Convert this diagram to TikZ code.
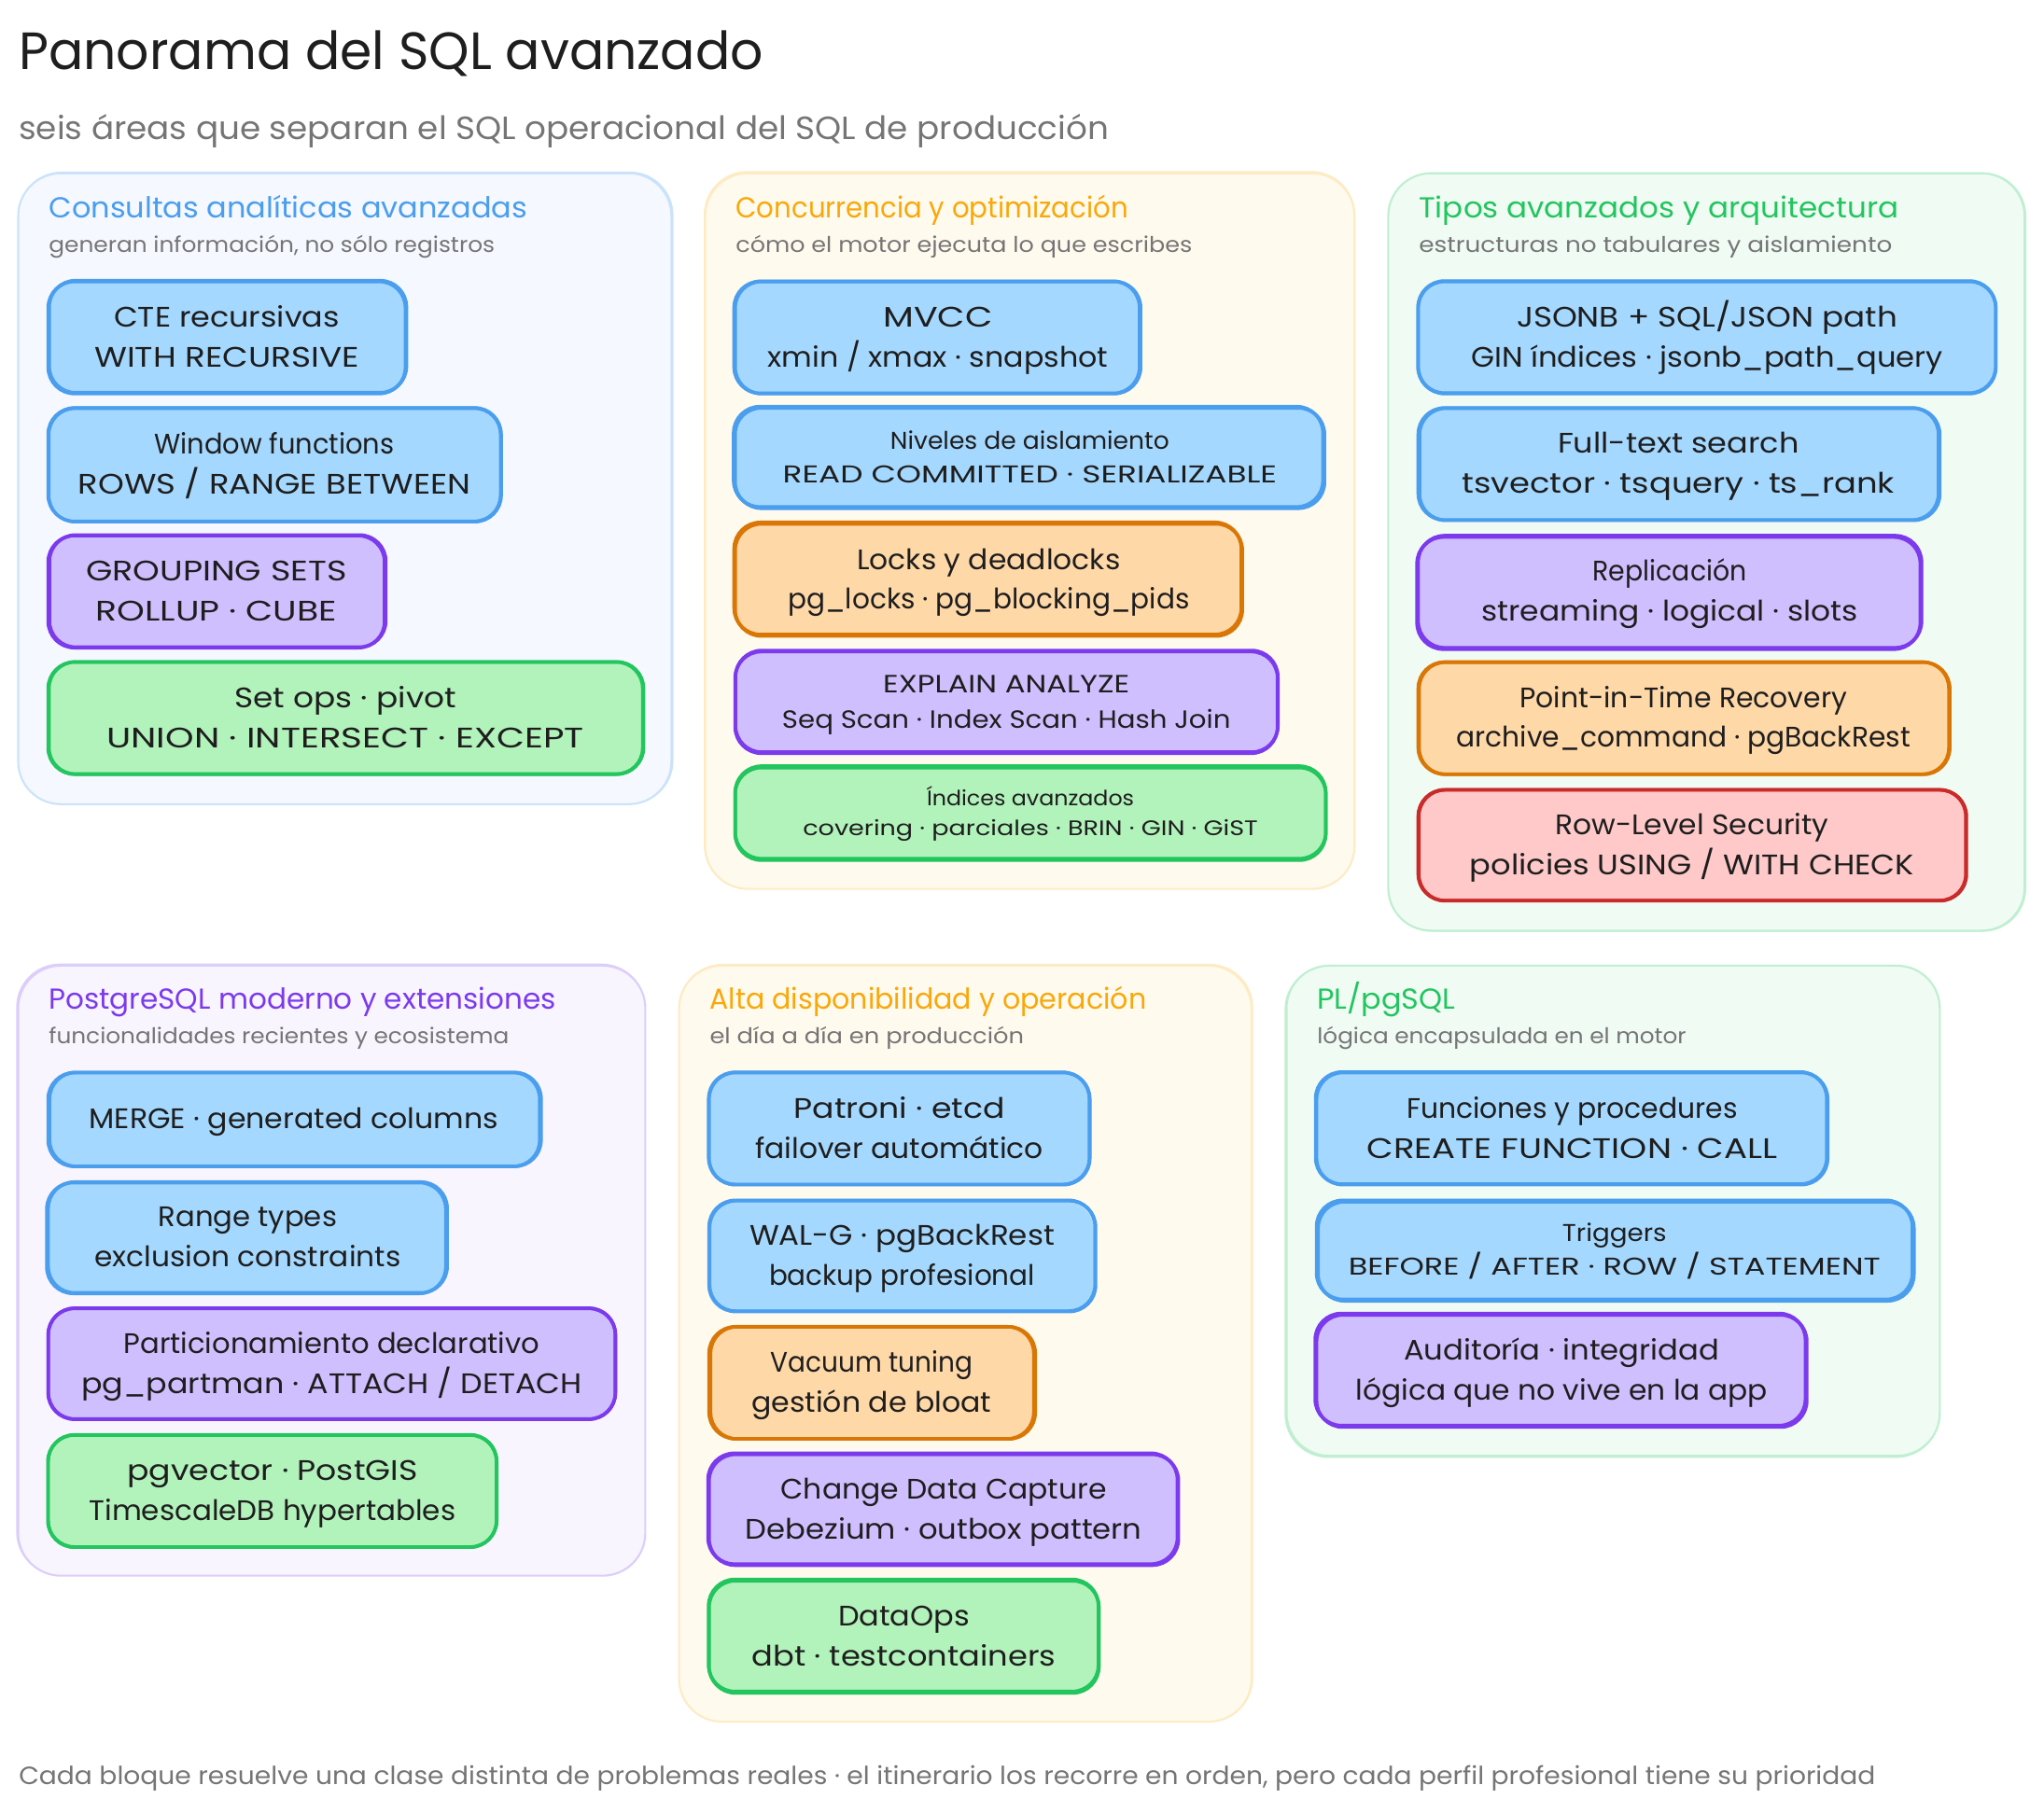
\documentclass[tikz,border=0pt]{standalone}
\usepackage{fontspec}
\usepackage{graphicx}
\setmainfont{Poppins}
\definecolor{ink}{HTML}{1E1E1E}
\definecolor{mute}{HTML}{757575}
\definecolor{sBlue}{HTML}{4A9EED}\definecolor{fBlue}{HTML}{A5D8FF}
\definecolor{sOrange}{HTML}{D97706}\definecolor{fOrange}{HTML}{FFD8A8}
\definecolor{sPurple}{HTML}{7C3AED}\definecolor{fPurple}{HTML}{D0BFFF}
\definecolor{sGreen}{HTML}{22C55E}\definecolor{fGreen}{HTML}{B2F2BB}
\definecolor{sRed}{HTML}{C92A2A}\definecolor{fRed}{HTML}{FFC9C9}
\definecolor{tOrange}{HTML}{F8A80A}
\definecolor{pfBlue}{HTML}{F5F8FF}\definecolor{psBlue}{HTML}{CBE3FA}
\definecolor{pfOrange}{HTML}{FFFAEE}\definecolor{psOrange}{HTML}{FDEBC4}
\definecolor{pfGreen}{HTML}{F0FBF4}\definecolor{psGreen}{HTML}{BFEFD0}
\definecolor{pfPurple}{HTML}{F8F5FE}\definecolor{psPurple}{HTML}{DCCEFA}
\newbox\fitbx
\newcommand\fitw[2]{\setbox\fitbx\hbox{#2}\pgfmathsetmacro\fitr{#1*0.39731/\the\wd\fitbx}\scalebox{\fitr}[1]{\vphantom{Áp}\box\fitbx}}
\newcommand\twol[2]{\vbox{\lineskiplimit=-100pt\halign{\hfil##\hfil\cr #1\cr #2\cr}}}
\newcommand\skbox[7]{%
  \pgfmathsetmacro\ja{1.2*rand}\pgfmathsetmacro\jb{1.2*rand}\pgfmathsetmacro\jc{1.5*rand}\pgfmathsetmacro\jd{1.5*rand}%
  \node[#2,minimum width={(#4-#3)*0.39731pt},minimum height={(#6-#5)*0.39731pt},
    preaction={fill=fillc,draw=none,transform canvas={shift={(\jc,\jd)}}},
    preaction={draw=strokec,transform canvas={shift={(\ja,\jb)}}}]
    (#1) at ({(#3+#4)/2},{(#5+#6)/2}) {#7};}
\newcommand\skpanel[6]{%
  \pgfmathsetmacro\ja{1.0*rand}\pgfmathsetmacro\jb{1.0*rand}%
  \node[#2,minimum width={(#4-#3)*0.39731pt},minimum height={(#6-#5)*0.39731pt},
    preaction={draw=strokec,transform canvas={shift={(\ja,\jb)}}}]
    (#1) at ({(#3+#4)/2},{(#5+#6)/2}) {};}
\tikzset{
  x=0.013967cm,y=-0.013967cm,
  sk/.style={rectangle,rounded corners=8pt,inner sep=0pt,draw=strokec,line width=1.05pt,text=ink,
     font=\fontsize{8.6}{12.2}\selectfont},
  fsA/.style={font=\fontsize{7.4}{10.3}\selectfont},
  fsB/.style={font=\fontsize{7.6}{10.7}\selectfont},
  fsC/.style={font=\fontsize{6.4}{9.2}\selectfont},
  pn/.style={rectangle,rounded corners=13pt,inner sep=0pt,draw=strokec,line width=0.6pt},
  ptitle/.style={anchor=west,inner sep=0pt,font=\fontsize{8.8}{10}\selectfont},
  psub/.style={anchor=west,inner sep=0pt,text=mute,font=\fontsize{6.6}{8}\selectfont},
}
\colorlet{strokec}{sBlue}\colorlet{fillc}{fBlue}
\newcommand\setc[2]{\colorlet{strokec}{#1}\colorlet{fillc}{#2}}
\pgfmathsetseed{17}
\begin{document}
\begin{tikzpicture}
\useasboundingbox (0,0) rectangle (1568,1391.1);
\fill[white] (0,0) rectangle (1568,1391.1);
\node[anchor=west,inner sep=0pt,text=ink,font=\fontsize{16}{18}\selectfont] (title) at (14,40) {\fitw{571}{Panorama del SQL avanzado}};
\node[anchor=west,inner sep=0pt,text=mute,font=\fontsize{9.8}{12}\selectfont] (subtitle) at (14,98.5) {\fitw{836}{seis áreas que separan el SQL operacional del SQL de producción}};
% panels
\setc{psBlue}{pfBlue}
\skpanel{p1}{pn,fill=pfBlue}{14}{515}{133}{617}
\setc{psOrange}{pfOrange}
\skpanel{p2}{pn,fill=pfOrange}{541}{1039}{133}{682}
\setc{psGreen}{pfGreen}
\skpanel{p3}{pn,fill=pfGreen}{1065}{1553}{133}{714}
\setc{psPurple}{pfPurple}
\skpanel{p4}{pn,fill=pfPurple}{14}{495}{741}{1209}
\setc{psOrange}{pfOrange}
\skpanel{p5}{pn,fill=pfOrange}{521}{960}{741}{1321}
\setc{psGreen}{pfGreen}
\skpanel{p6}{pn,fill=pfGreen}{987}{1488}{741}{1117}
% panel heads
\node[ptitle,text=sBlue] (t1) at (37,160) {\fitw{367}{Consultas analíticas avanzadas}};
\node[psub] (s1) at (37,188) {\fitw{342}{generan información, no sólo registros}};
\node[ptitle,text=tOrange] (t2) at (564,160) {\fitw{301}{Concurrencia y optimización}};
\node[psub] (s2) at (564,188) {\fitw{350}{cómo el motor ejecuta lo que escribes}};
\node[ptitle,text=sGreen] (t3) at (1088,160) {\fitw{368}{Tipos avanzados y arquitectura}};
\node[psub] (s3) at (1088,188) {\fitw{363}{estructuras no tabulares y aislamiento}};
\node[ptitle,text=sPurple] (t4) at (37,767) {\fitw{389}{PostgreSQL moderno y extensiones}};
\node[psub] (s4) at (37,795) {\fitw{353}{funcionalidades recientes y ecosistema}};
\node[ptitle,text=tOrange] (t5) at (544,767) {\fitw{335}{Alta disponibilidad y operación}};
\node[psub] (s5) at (544,795) {\fitw{241}{el día a día en producción}};
\node[ptitle,text=sGreen] (t6) at (1010,767) {\fitw{106}{PL/pgSQL}};
\node[psub] (s6) at (1010,795) {\fitw{283}{lógica encapsulada en el motor}};
% panel 1
\setc{sBlue}{fBlue}
\skbox{b11}{sk}{37}{311}{216}{302}{\twol{\fitw{173}{CTE recursivas}}{\fitw{203}{WITH RECURSIVE}}}
\skbox{b12}{sk}{37}{384}{313}{400}{\twol{\fitw{184}{Window functions}}{\fitw{301}{ROWS / RANGE BETWEEN}}}
\setc{sPurple}{fPurple}
\skbox{b13}{sk}{37}{295}{411}{497}{\twol{\fitw{200}{GROUPING SETS}}{\fitw{185}{ROLLUP · CUBE}}}
\setc{sGreen}{fGreen}
\skbox{b14}{sk}{37}{493}{508}{594}{\twol{\fitw{170}{Set ops · pivot}}{\fitw{366}{UNION · INTERSECT · EXCEPT}}}
% panel 2
\setc{sBlue}{fBlue}
\skbox{b21}{sk}{564}{875}{216}{302}{\twol{\fitw{84}{MVCC}}{\fitw{261}{xmin / xmax · snapshot}}}
\skbox{b22}{sk,fsA}{564}{1016}{313}{390}{\twol{\fitw{214}{Niveles de aislamiento}}{\fitw{379}{READ COMMITTED · SERIALIZABLE}}}
\setc{sOrange}{fOrange}
\skbox{b23}{sk}{564}{953}{402}{488}{\twol{\fitw{202}{Locks y deadlocks}}{\fitw{308}{pg\_locks · pg\_blocking\_pids}}}
\setc{sPurple}{fPurple}
\skbox{b24}{sk,fsB}{564}{980}{500}{578}{\twol{\fitw{189}{EXPLAIN ANALYZE}}{\fitw{344}{Seq Scan · Index Scan · Hash Join}}}
\setc{sGreen}{fGreen}
\skbox{b25}{sk,fsC}{564}{1017}{589}{660}{\twol{\fitw{159}{Índices avanzados}}{\fitw{349}{covering · parciales · BRIN · GIN · GiST}}}
% panel 3
\setc{sBlue}{fBlue}
\skbox{b31}{sk}{1088}{1531}{216}{302}{\twol{\fitw{292}{JSONB + SQL/JSON path}}{\fitw{362}{GIN índices · jsonb\_path\_query}}}
\skbox{b32}{sk}{1088}{1487}{313}{399}{\twol{\fitw{185}{Full-text search}}{\fitw{332}{tsvector · tsquery · ts\_rank}}}
\setc{sPurple}{fPurple}
\skbox{b33}{sk}{1088}{1474}{411}{497}{\twol{\fitw{118}{Replicación}}{\fitw{289}{streaming · logical · slots}}}
\setc{sOrange}{fOrange}
\skbox{b34}{sk}{1088}{1495}{508}{594}{\twol{\fitw{251}{Point-in-Time Recovery}}{\fitw{348}{archive\_command · pgBackRest}}}
\setc{sRed}{fRed}
\skbox{b35}{sk}{1088}{1508}{606}{691}{\twol{\fitw{210}{Row-Level Security}}{\fitw{341}{policies USING / WITH CHECK}}}
% panel 4
\setc{sBlue}{fBlue}
\skbox{b41}{sk}{37}{414}{823}{895}{\fitw{314}{MERGE · generated columns}}
\skbox{b42}{sk}{37}{343}{907}{992}{\twol{\fitw{137}{Range types}}{\fitw{235}{exclusion constraints}}}
\setc{sPurple}{fPurple}
\skbox{b43}{sk}{37}{472}{1004}{1089}{\twol{\fitw{319}{Particionamiento declarativo}}{\fitw{384}{pg\_partman · ATTACH / DETACH}}}
\setc{sGreen}{fGreen}
\skbox{b44}{sk}{37}{381}{1101}{1187}{\twol{\fitw{223}{pgvector · PostGIS}}{\fitw{281}{TimescaleDB hypertables}}}
% panel 5
\setc{sBlue}{fBlue}
\skbox{b51}{sk}{544}{836}{823}{909}{\twol{\fitw{162}{Patroni · etcd}}{\fitw{221}{failover automático}}}
\skbox{b52}{sk}{544}{840}{921}{1006}{\twol{\fitw{234}{WAL-G · pgBackRest}}{\fitw{204}{backup profesional}}}
\setc{sOrange}{fOrange}
\skbox{b53}{sk}{544}{793}{1018}{1104}{\twol{\fitw{155}{Vacuum tuning}}{\fitw{184}{gestión de bloat}}}
\setc{sPurple}{fPurple}
\skbox{b54}{sk}{544}{904}{1116}{1201}{\twol{\fitw{250}{Change Data Capture}}{\fitw{304}{Debezium · outbox pattern}}}
\setc{sGreen}{fGreen}
\skbox{b55}{sk}{544}{843}{1213}{1299}{\twol{\fitw{101}{DataOps}}{\fitw{233}{dbt · testcontainers}}}
% panel 6
\setc{sBlue}{fBlue}
\skbox{b61}{sk}{1010}{1402}{823}{909}{\twol{\fitw{254}{Funciones y procedures}}{\fitw{315}{CREATE FUNCTION · CALL}}}
\skbox{b62}{sk,fsA}{1010}{1467}{921}{997}{\twol{\fitw{80}{Triggers}}{\fitw{408}{BEFORE / AFTER · ROW / STATEMENT}}}
\setc{sPurple}{fPurple}
\skbox{b63}{sk}{1010}{1386}{1009}{1095}{\twol{\fitw{242}{Auditoría · integridad}}{\fitw{316}{lógica que no vive en la app}}}
\node[anchor=west,inner sep=0pt,text=mute,font=\fontsize{7.6}{9}\selectfont] (foot) at (14,1363) {\fitw{1424}{Cada bloque resuelve una clase distinta de problemas reales · el itinerario los recorre en orden, pero cada perfil profesional tiene su prioridad}};
\end{tikzpicture}
\end{document}
